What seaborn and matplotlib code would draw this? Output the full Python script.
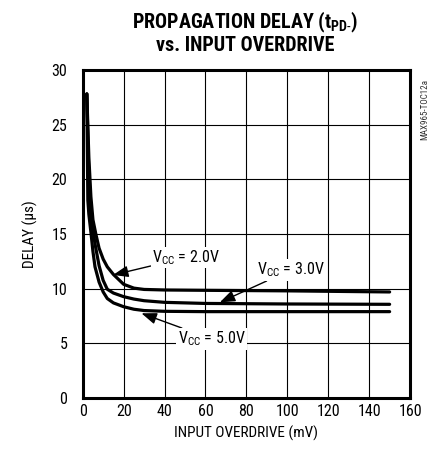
import numpy as np
import pandas as pd
import matplotlib
matplotlib.use("Agg")
import matplotlib.pyplot as plt
import seaborn as sns

# ---- data ----
x_2v0 = [2, 3, 4, 5, 6.4, 8, 10, 12, 15, 20, 25, 30, 40, 60, 100, 150]
y_2v0 = [27.8, 22.0, 18.4, 16.3, 15.0, 13.7, 12.7, 12.0, 11.3, 10.4, 10.05, 9.93, 9.88, 9.85, 9.8, 9.7]

x_3v0 = [2, 3, 4, 5.3, 6, 8, 10, 12, 15, 20, 25, 30, 40, 60, 100, 150]
y_3v0 = [27.8, 20.0, 16.8, 15.0, 14.1, 12.1, 10.75, 9.95, 9.6, 9.27, 9.05, 8.9, 8.75, 8.65, 8.6, 8.57]

x_5v0 = [2, 2.5, 3, 4.1, 5, 6, 8, 10, 12, 15, 20, 25, 30, 40, 60, 100, 150]
y_5v0 = [27.8, 18.1, 16.8, 15.0, 13.4, 12.0, 10.6, 9.7, 9.1, 8.7, 8.35, 8.12, 8.0, 7.93, 7.9, 7.9, 7.9]

series_names = ["2.0V", "3.0V", "5.0V"]
x_ticks = [0, 20, 40, 60, 80, 100, 120, 140, 160]
y_ticks = [0, 5, 10, 15, 20, 25, 30]

df = pd.concat([
    pd.DataFrame({"x": x_2v0, "y": y_2v0, "vcc": series_names[0]}),
    pd.DataFrame({"x": x_3v0, "y": y_3v0, "vcc": series_names[1]}),
    pd.DataFrame({"x": x_5v0, "y": y_5v0, "vcc": series_names[2]}),
])

sns.set_theme(style="white")
FONT = "Roboto Condensed"
plt.rcParams["font.family"] = [FONT, "DejaVu Sans"]
plt.rcParams["mathtext.fontset"] = "custom"
plt.rcParams["mathtext.rm"] = FONT
plt.rcParams["mathtext.bf"] = FONT + ":bold"
plt.rcParams["mathtext.it"] = FONT
plt.rcParams["text.color"] = "black"
plt.rcParams["axes.labelcolor"] = "black"

fig = plt.figure(figsize=(4.4, 4.57), dpi=100)
ax = fig.add_axes([0.188, 0.129, 0.744, 0.718])

sns.lineplot(data=df, x="x", y="y", hue="vcc", palette=["black"] * 3,
             linewidth=2.3, legend=False, ax=ax, sort=True, estimator=None)

ax.set_xlim(0, 160)
ax.set_ylim(0, 30)
ax.set_xticks(x_ticks)
ax.set_yticks(y_ticks)
ax.set_xticklabels([str(v) for v in x_ticks])
ax.set_yticklabels([str(v) for v in y_ticks])
ax.grid(True, color="black", linewidth=0.8)
ax.set_axisbelow(True)
for s in ax.spines.values():
    s.set_visible(True)
    s.set_color("black")
    s.set_linewidth(2.2)
ax.tick_params(axis="both", length=0, labelsize=11.5, colors="black")
ax.tick_params(axis="y", pad=11)
ax.tick_params(axis="x", pad=4)

ax.set_xlabel("INPUT OVERDRIVE (mV)", fontsize=11, color="black", labelpad=5)
ax.set_ylabel("DELAY (μs)", fontsize=11, color="black", labelpad=10)

fig.text(0.558, 0.978, "PROPAGATION DELAY (t$_{\\mathbf{PD}\\text{-}}$)\nvs. INPUT OVERDRIVE",
         ha="center", va="top", fontsize=14.5, fontweight="heavy", linespacing=1.05)

fig.text(0.966, 0.76, "MAX965-TOC12a", rotation=90, ha="center", va="center",
         fontsize=6.5, color="#333333")

bbox = dict(boxstyle="square,pad=0.1", fc="white", ec="none")
arrow = dict(arrowstyle="-|>,head_length=0.8,head_width=0.3", color="black",
             linewidth=1.0, shrinkA=0, shrinkB=0)
ax.annotate("V$_{\\mathrm{CC}}$ = 2.0V", xy=(14.8, 11.25), xytext=(34, 12.85),
            fontsize=11.5, ha="left", va="center", bbox=bbox, arrowprops=arrow)
ax.annotate("V$_{\\mathrm{CC}}$ = 3.0V", xy=(67, 8.75), xytext=(85, 11.7),
            fontsize=11.5, ha="left", va="center", bbox=bbox, arrowprops=arrow)
ax.annotate("V$_{\\mathrm{CC}}$ = 5.0V", xy=(28.7, 7.75), xytext=(46.5, 5.4),
            fontsize=11.5, ha="left", va="center", bbox=bbox, arrowprops=arrow)

fig.savefig("out.png", dpi=100, facecolor="white")
